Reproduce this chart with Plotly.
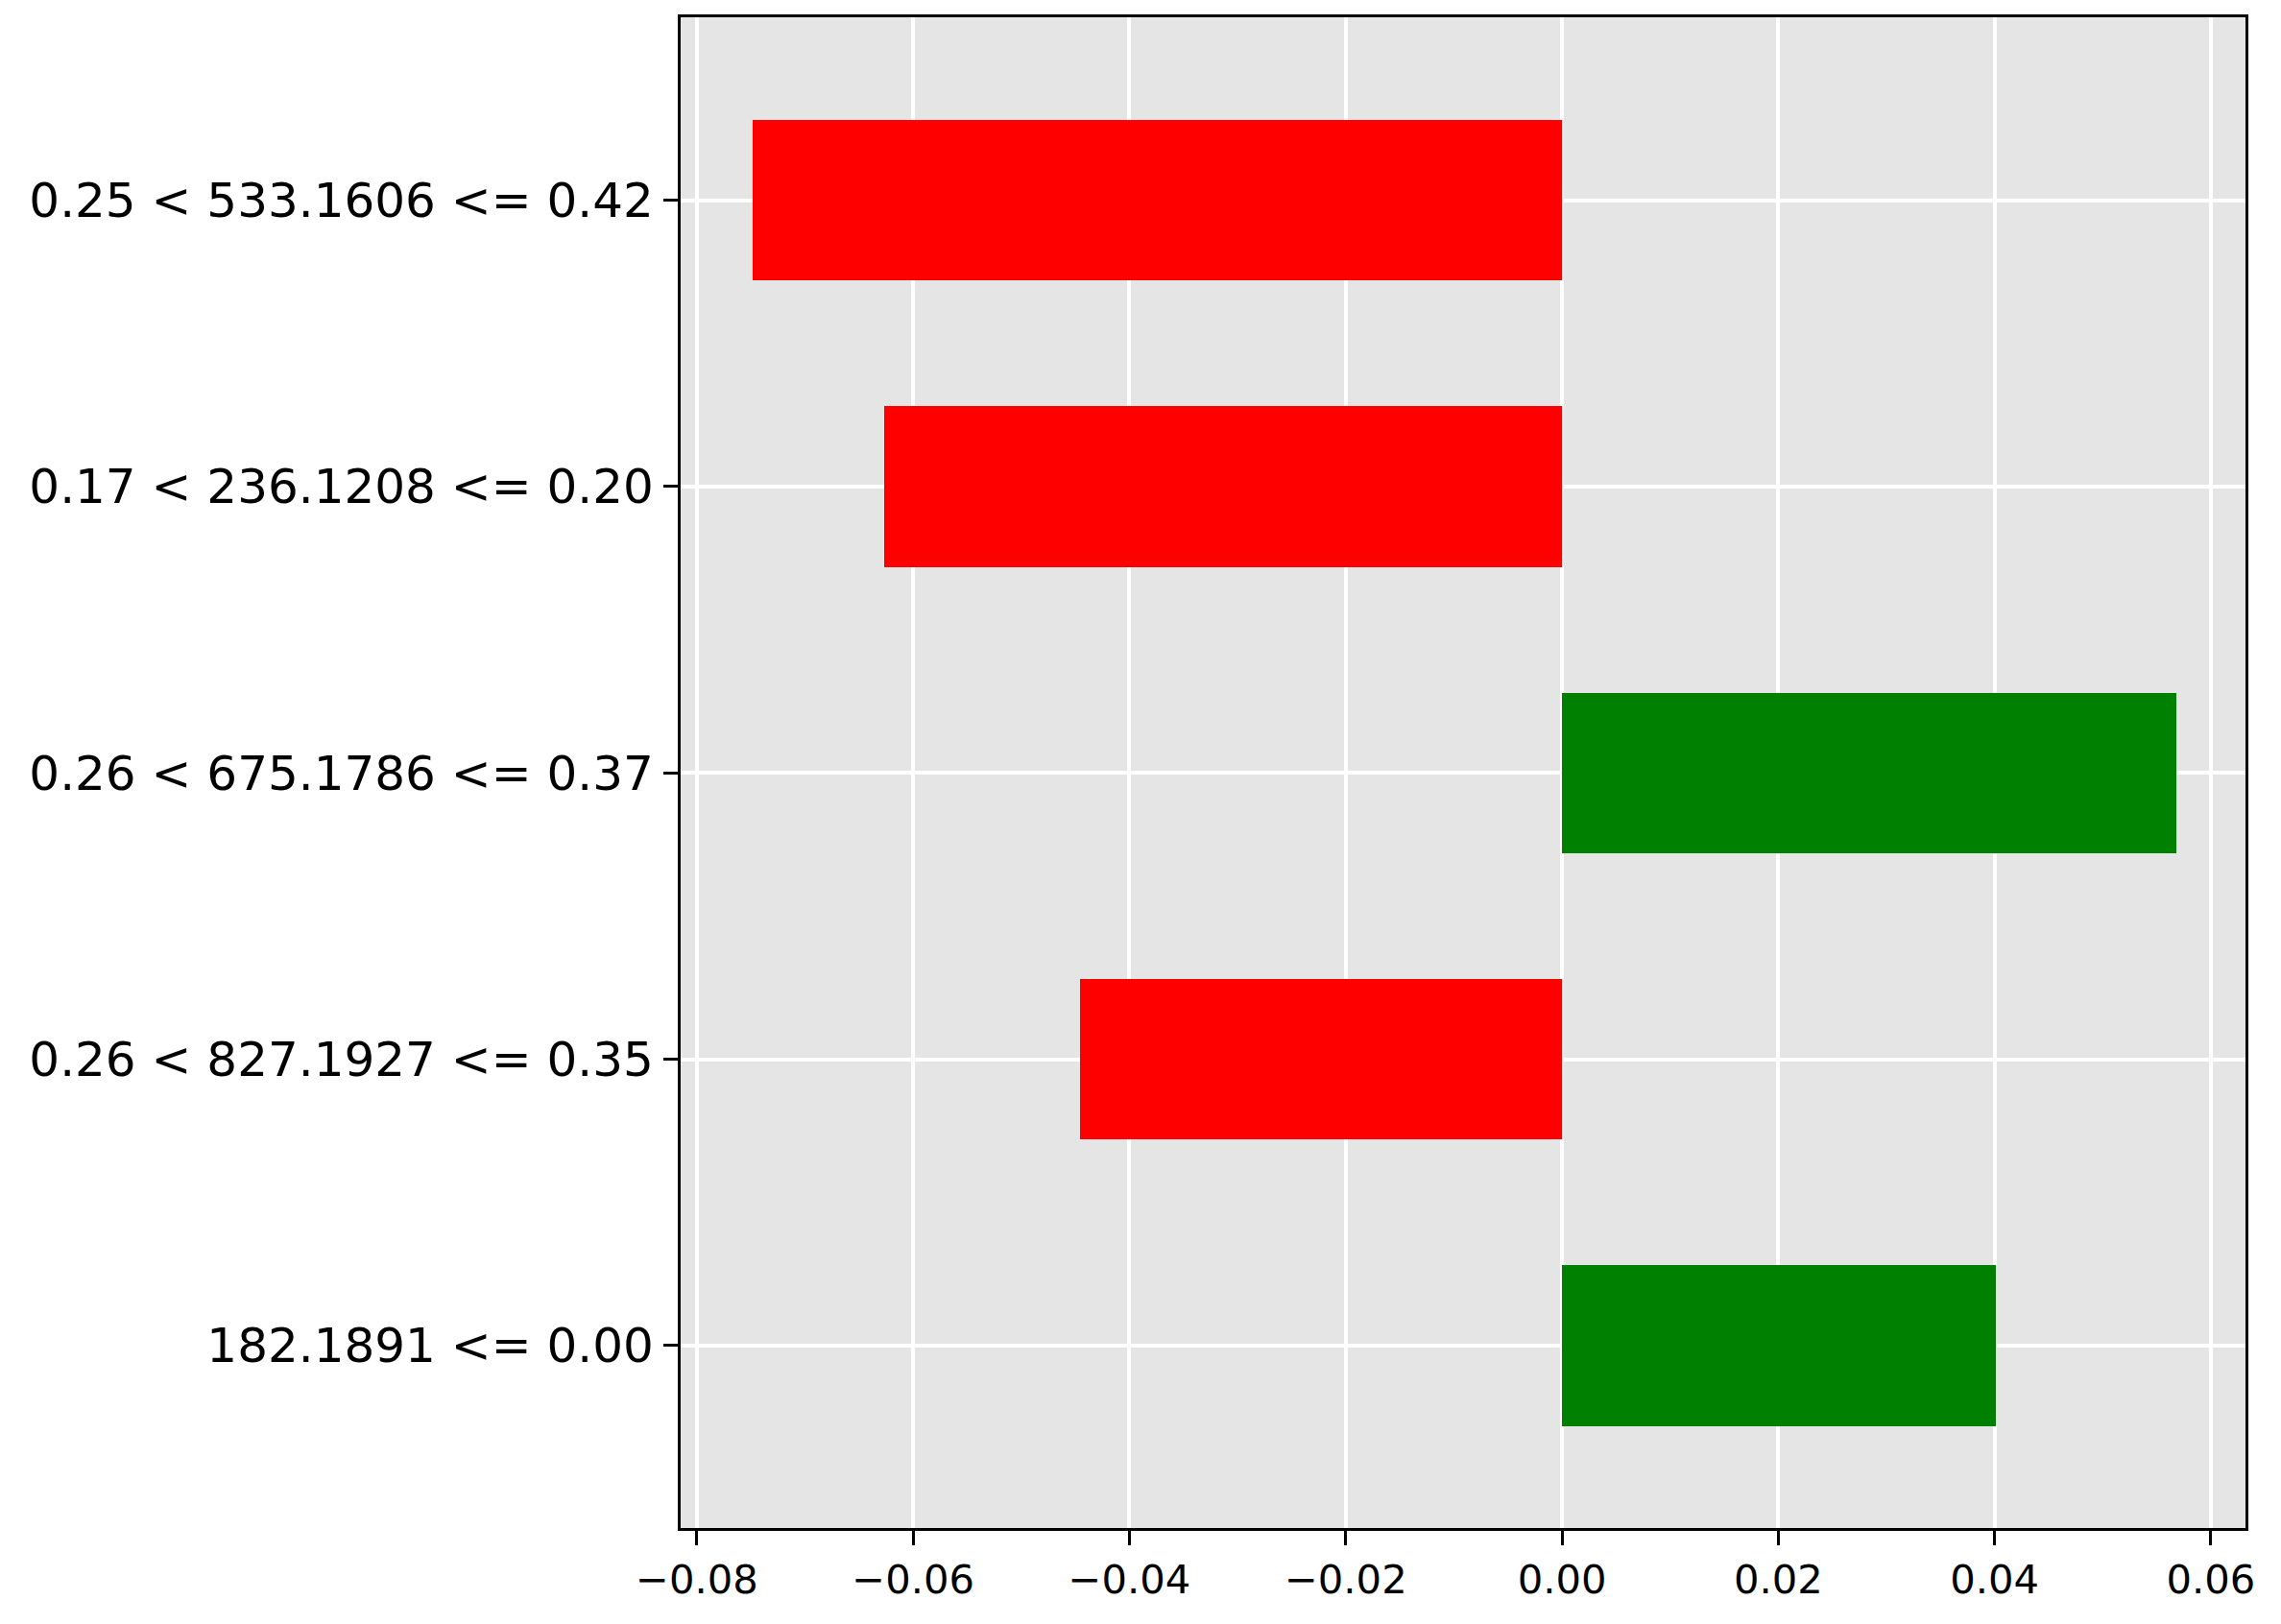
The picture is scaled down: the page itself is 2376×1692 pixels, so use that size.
import plotly.graph_objects as go

# Data (bottom to top)
labels = [
    "182.1891 <= 0.00",
    "0.26 < 827.1927 <= 0.35",
    "0.26 < 675.1786 <= 0.37",
    "0.17 < 236.1208 <= 0.20",
    "0.25 < 533.1606 <= 0.42",
]
values = [0.0401, -0.0446, 0.0568, -0.0627, -0.0748]
positions = list(range(len(labels)))
colors = ["green" if v > 0 else "red" for v in values]

fig = go.Figure()
fig.add_trace(go.Bar(
    x=values, y=positions, orientation="h",
    marker=dict(color=colors, line=dict(width=0)),
    width=0.56,
))

fig.update_layout(
    width=2368, height=1684,
    margin=dict(l=701, r=37, t=7, b=100),
    paper_bgcolor="white",
    plot_bgcolor="#e5e5e5",
    showlegend=False,
    font=dict(family="DejaVu Sans", color="black"),
    bargap=0,
)
fig.update_xaxes(
    range=[-0.0815, 0.0632],
    tickvals=[-0.08, -0.06, -0.04, -0.02, 0.0, 0.02, 0.04, 0.06],
    tickformat=".2f",
    showgrid=True, gridcolor="white", gridwidth=4,
    zeroline=False,
    showline=True, linecolor="black", linewidth=3.3, mirror=True,
    ticks="outside", ticklen=15, tickwidth=3, tickcolor="black",
    tickfont=dict(size=41.7, color="black"),
)
fig.update_yaxes(
    range=[-0.637, 4.639],
    tickvals=positions, ticktext=labels,
    showgrid=True, gridcolor="white", gridwidth=4,
    zeroline=False,
    showline=True, linecolor="black", linewidth=3.3, mirror=True,
    ticks="outside", ticklen=15, tickwidth=3, tickcolor="black",
    tickfont=dict(size=50, color="black"),
)

fig.write_html("out.html")
